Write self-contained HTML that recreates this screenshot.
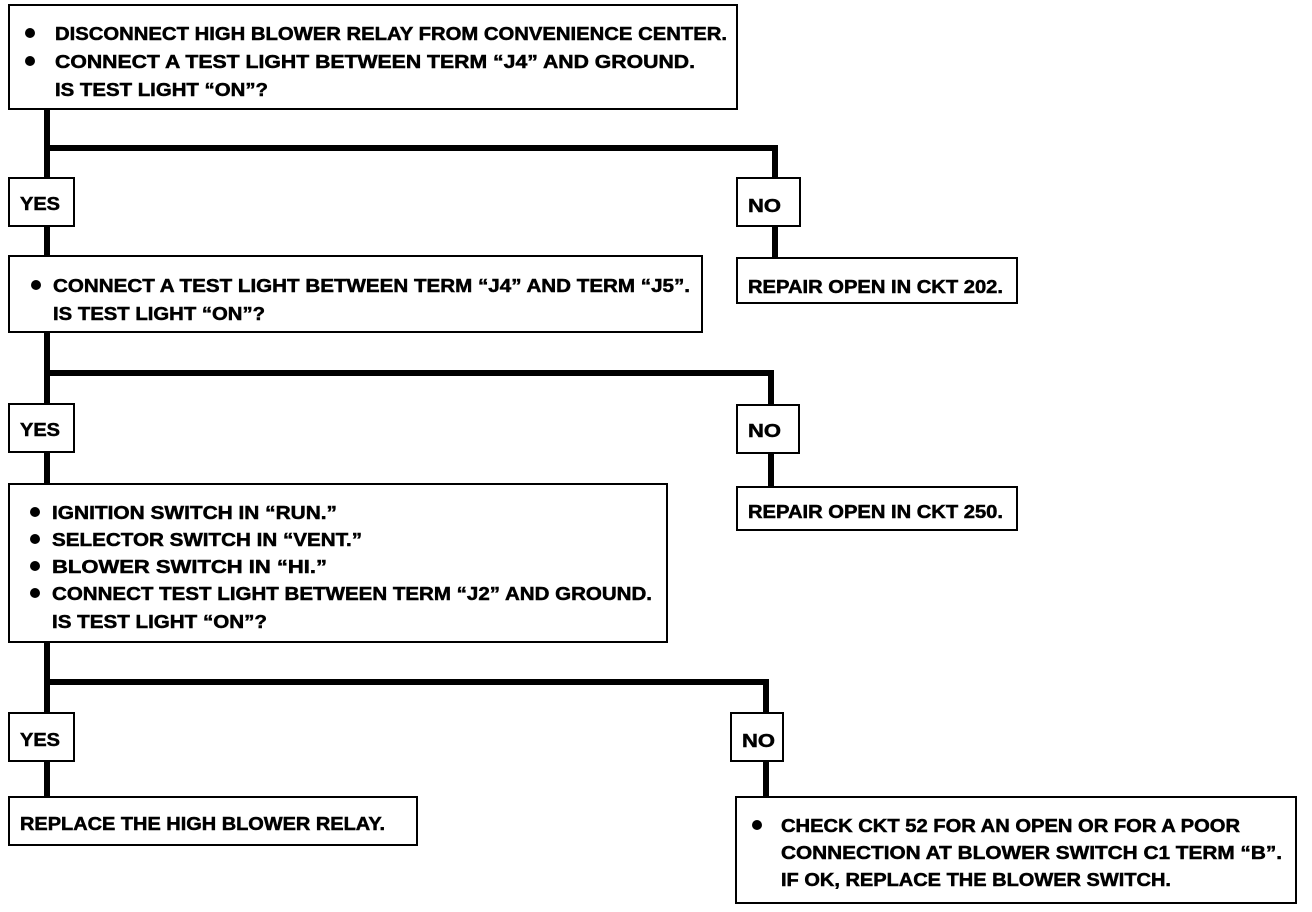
<!DOCTYPE html>
<html><head><style>body{margin:0;background:#fff}svg{display:block}text{font-family:"Liberation Sans",sans-serif;font-weight:bold;font-size:18px;fill:#000;stroke:#000;stroke-width:0.5}</style></head><body>
<svg width="1312" height="912" xmlns="http://www.w3.org/2000/svg">
<g fill="none" stroke="#000" stroke-width="6">
<path d="M47 109V256M47 148H775V178M775 226V258"/>
<path d="M47 332V484M47 373H771V405M771 453V487"/>
<path d="M47 642V797M47 682H766V713M766 760V797"/>
</g>
<g fill="#fff" stroke="#000" stroke-width="2">
<rect x="9" y="5" width="728" height="104"/>
<rect x="9" y="178" width="65" height="48"/>
<rect x="737" y="178" width="63" height="48"/>
<rect x="737" y="258" width="280" height="45"/>
<rect x="9" y="256" width="693" height="76"/>
<rect x="9" y="404" width="65" height="48"/>
<rect x="737" y="405" width="62" height="48"/>
<rect x="737" y="487" width="280" height="43"/>
<rect x="9" y="484" width="658" height="158"/>
<rect x="9" y="713" width="65" height="48"/>
<rect x="731" y="713" width="52" height="48"/>
<rect x="9" y="797" width="408" height="48"/>
<rect x="736" y="797" width="560" height="106"/>
</g>
<g fill="#000">
<circle cx="30" cy="33" r="5"/><circle cx="30" cy="61" r="5"/>
<circle cx="36" cy="285" r="5"/>
<circle cx="35" cy="512" r="5"/><circle cx="35" cy="539" r="5"/><circle cx="35" cy="566" r="5"/><circle cx="35" cy="593" r="5"/>
<circle cx="757" cy="825" r="5"/>
</g>
<g>
<text x="55" y="40" textLength="672" lengthAdjust="spacingAndGlyphs">DISCONNECT HIGH BLOWER RELAY FROM CONVENIENCE CENTER.</text>
<text x="55" y="68" textLength="640" lengthAdjust="spacingAndGlyphs">CONNECT A TEST LIGHT BETWEEN TERM “J4” AND GROUND.</text>
<text x="55" y="96" textLength="213" lengthAdjust="spacingAndGlyphs">IS TEST LIGHT “ON”?</text>
<text x="20" y="210" textLength="40" lengthAdjust="spacingAndGlyphs">YES</text>
<text x="748" y="212" textLength="33" lengthAdjust="spacingAndGlyphs">NO</text>
<text x="748" y="293" textLength="255" lengthAdjust="spacingAndGlyphs">REPAIR OPEN IN CKT 202.</text>
<text x="53" y="292" textLength="637" lengthAdjust="spacingAndGlyphs">CONNECT A TEST LIGHT BETWEEN TERM “J4” AND TERM “J5”.</text>
<text x="53" y="320" textLength="212" lengthAdjust="spacingAndGlyphs">IS TEST LIGHT “ON”?</text>
<text x="20" y="436" textLength="40" lengthAdjust="spacingAndGlyphs">YES</text>
<text x="748" y="437" textLength="33" lengthAdjust="spacingAndGlyphs">NO</text>
<text x="748" y="518" textLength="255" lengthAdjust="spacingAndGlyphs">REPAIR OPEN IN CKT 250.</text>
<text x="52" y="519" textLength="285" lengthAdjust="spacingAndGlyphs">IGNITION SWITCH IN “RUN.”</text>
<text x="52" y="546" textLength="310" lengthAdjust="spacingAndGlyphs">SELECTOR SWITCH IN “VENT.”</text>
<text x="52" y="573" textLength="275" lengthAdjust="spacingAndGlyphs">BLOWER SWITCH IN “HI.”</text>
<text x="52" y="600" textLength="600" lengthAdjust="spacingAndGlyphs">CONNECT TEST LIGHT BETWEEN TERM “J2” AND GROUND.</text>
<text x="52" y="628" textLength="215" lengthAdjust="spacingAndGlyphs">IS TEST LIGHT “ON”?</text>
<text x="20" y="746" textLength="40" lengthAdjust="spacingAndGlyphs">YES</text>
<text x="742" y="747" textLength="33" lengthAdjust="spacingAndGlyphs">NO</text>
<text x="20" y="830" textLength="365" lengthAdjust="spacingAndGlyphs">REPLACE THE HIGH BLOWER RELAY.</text>
<text x="781" y="832" textLength="459" lengthAdjust="spacingAndGlyphs">CHECK CKT 52 FOR AN OPEN OR FOR A POOR</text>
<text x="781" y="859" textLength="501" lengthAdjust="spacingAndGlyphs">CONNECTION AT BLOWER SWITCH C1 TERM “B”.</text>
<text x="781" y="886" textLength="390" lengthAdjust="spacingAndGlyphs">IF OK, REPLACE THE BLOWER SWITCH.</text>
</g>
</svg>
</body></html>
